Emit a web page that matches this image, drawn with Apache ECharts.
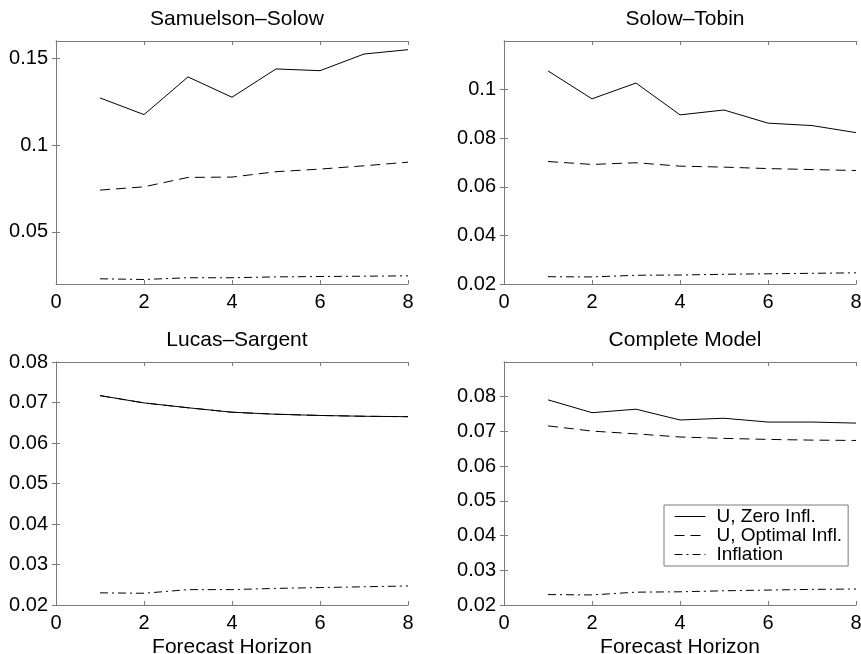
<!DOCTYPE html>
<html>
<head>
<meta charset="utf-8">
<script src="https://cdn.jsdelivr.net/npm/echarts@6/dist/echarts.min.js"></script>
<style>
html,body{margin:0;padding:0;background:#fff;}
#chart{width:861px;height:654px;}
</style>
</head>
<body>
<div id="chart"></div>
<script>
// ---- data ----
const horizons = [1, 2, 3, 4, 5, 6, 7, 8];
const panelTitles = ['Samuelson\u2013Solow', 'Solow\u2013Tobin', 'Lucas\u2013Sargent', 'Complete Model'];
const seriesNames = ['U, Zero Infl.', 'U, Optimal Infl.', 'Inflation'];
const xTickLabels = [0, 2, 4, 6, 8];
const xAxisTitle = 'Forecast Horizon';

const ssZero      = [0.1272, 0.1176, 0.1393, 0.1276, 0.1439, 0.1429, 0.1525, 0.1550];
const ssOptimal   = [0.0741, 0.0760, 0.0814, 0.0816, 0.0847, 0.0862, 0.0881, 0.0902];
const ssInflation = [0.0230, 0.0226, 0.0236, 0.0236, 0.0241, 0.0243, 0.0245, 0.0247];

const stZero      = [0.1077, 0.0962, 0.1027, 0.0896, 0.0916, 0.0862, 0.0852, 0.0823];
const stOptimal   = [0.0704, 0.0692, 0.0699, 0.0685, 0.0681, 0.0675, 0.0671, 0.0667];
const stInflation = [0.0230, 0.0229, 0.0236, 0.0237, 0.0240, 0.0242, 0.0244, 0.0246];

const lsZero      = [0.0717, 0.0699, 0.0687, 0.0676, 0.0671, 0.0668, 0.0666, 0.0665];
const lsOptimal   = [0.0717, 0.0699, 0.0687, 0.0676, 0.0671, 0.0668, 0.0666, 0.0665];
const lsInflation = [0.0230, 0.0229, 0.0238, 0.0238, 0.0241, 0.0243, 0.0245, 0.0247];

const cmZero      = [0.0791, 0.0754, 0.0764, 0.0733, 0.0738, 0.0727, 0.0727, 0.0724];
const cmOptimal   = [0.0716, 0.0701, 0.0693, 0.0684, 0.0680, 0.0677, 0.0675, 0.0674];
const cmInflation = [0.0230, 0.0229, 0.0237, 0.0238, 0.0241, 0.0243, 0.0245, 0.0246];

const yRanges = [[0.02, 0.16], [0.02, 0.12], [0.02, 0.08], [0.02, 0.09]];
const yTicks = [
  [0.05, 0.10, 0.15],
  [0.02, 0.04, 0.06, 0.08, 0.10],
  [0.02, 0.03, 0.04, 0.05, 0.06, 0.07, 0.08],
  [0.02, 0.03, 0.04, 0.05, 0.06, 0.07, 0.08]
];
const panelData = [
  [ssZero, ssOptimal, ssInflation],
  [stZero, stOptimal, stInflation],
  [lsZero, lsOptimal, lsInflation],
  [cmZero, cmOptimal, cmInflation]
];

// ---- layout / style ----
const FONT = 'Liberation Sans, Arial, Helvetica, sans-serif';
const FS = 20;
const FS_TITLE = 21;
const boxColor = '#7a7a7a';
const grids = [
  {left: 56,  top: 41,  width: 352, height: 243},
  {left: 504, top: 41,  width: 352, height: 243},
  {left: 56,  top: 362, width: 352, height: 243},
  {left: 504, top: 362, width: 352, height: 243}
];
const lineTypes = ['solid', [10, 6], [8, 4, 2, 4]];
const lineZ = [4, 3, 3];

function fmt(v) { return String(parseFloat(Number(v).toFixed(4))); }

const option = {
  backgroundColor: '#fff',
  animation: false,
  textStyle: {fontFamily: FONT},
  title: [],
  grid: [],
  xAxis: [],
  yAxis: [],
  series: [],
  legend: {
    data: seriesNames,
    orient: 'vertical',
    left: 664,
    top: 505,
    padding: [2, 6, 2, 10],
    itemGap: 0,
    itemWidth: 31,
    itemHeight: 19,
    backgroundColor: '#fff',
    borderColor: boxColor,
    borderWidth: 1,
    borderRadius: 0,
    selectedMode: false,
    itemStyle: {opacity: 0},
    lineStyle: {color: '#000', width: 1},
    textStyle: {fontFamily: FONT, fontSize: 19, color: '#000', lineHeight: 19, padding: [0, 0, 0, 6]}
  }
};

grids.forEach((g, i) => {
  option.grid.push(Object.assign({show: false, containLabel: false, outerBoundsMode: 'none'}, g));
  option.title.push({
    text: panelTitles[i],
    left: g.left + g.width / 2,
    textAlign: 'center',
    top: g.top - 37,
    textStyle: {fontFamily: FONT, fontSize: FS_TITLE, fontWeight: 'normal', color: '#000'}
  });
  const axLine = {show: true, lineStyle: {color: boxColor, width: 1}};
  const tick = {show: true, inside: true, length: 4, lineStyle: {color: boxColor, width: 1}};
  // bottom x
  option.xAxis.push({
    type: 'value', gridIndex: i, min: 0, max: 8, interval: 2, position: 'bottom',
    axisLine: axLine, axisTick: tick, splitLine: {show: false},
    axisLabel: {show: true, margin: 8, fontFamily: FONT, fontSize: FS, color: '#000',
      customValues: xTickLabels, showMinLabel: true, showMaxLabel: true},
    name: i >= 2 ? xAxisTitle : '',
    nameLocation: 'middle', nameGap: 32,
    nameTextStyle: {fontFamily: FONT, fontSize: FS_TITLE, color: '#000'}
  });
  // top x
  option.xAxis.push({
    type: 'value', gridIndex: i, min: 0, max: 8, interval: 2, position: 'top',
    axisLine: axLine, axisTick: tick, splitLine: {show: false}, axisLabel: {show: false}
  });
  const yt = yTicks[i];
  option.yAxis.push({
    type: 'value', gridIndex: i, min: yRanges[i][0], max: yRanges[i][1], position: 'left',
    axisLine: axLine, axisTick: Object.assign({customValues: yt}, tick), splitLine: {show: false},
    axisLabel: {show: true, margin: 8, fontFamily: FONT, fontSize: FS, color: '#000',
      customValues: yt, formatter: fmt}
  });
  option.yAxis.push({
    type: 'value', gridIndex: i, min: yRanges[i][0], max: yRanges[i][1], position: 'right',
    axisLine: axLine, axisTick: Object.assign({customValues: yt}, tick), splitLine: {show: false},
    axisLabel: {show: false}
  });
  panelData[i].forEach((vals, k) => {
    option.series.push({
      name: seriesNames[k],
      type: 'line',
      xAxisIndex: i * 2,
      yAxisIndex: i * 2,
      data: horizons.map((h, j) => [h, vals[j]]),
      symbol: 'none',
      showSymbol: false,
      silent: true,
      z: lineZ[k],
      lineStyle: {color: '#000', width: 1, type: lineTypes[k]},
      itemStyle: {color: '#000'}
    });
  });
});

const chart = echarts.init(document.getElementById('chart'), null, {renderer: 'canvas'});
chart.setOption(option);
</script>
</body>
</html>
